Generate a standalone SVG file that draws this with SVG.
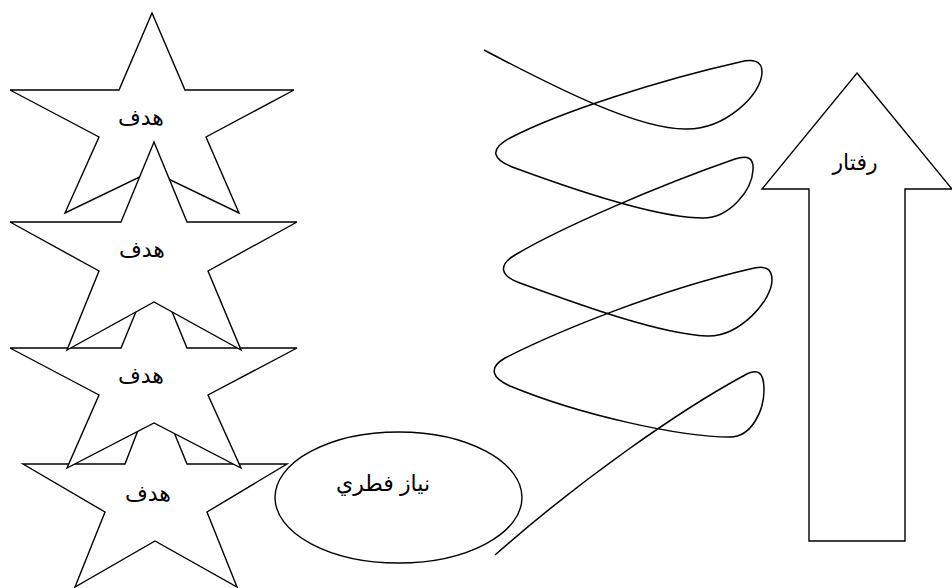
<svg xmlns="http://www.w3.org/2000/svg" width="952" height="588" viewBox="0 0 952 588">
<style>
.s{fill:#fff;stroke:#000;stroke-width:1.4;stroke-linejoin:miter}
.t{font-family:"Liberation Sans","DejaVu Sans",sans-serif;font-size:22px;fill:#000;text-anchor:middle}
.c{fill:none;stroke:#000;stroke-width:1.5}
</style>
<rect width="952" height="588" fill="#fff"/>
<g id="star1">
<polygon class="s" points="152,13 185,90 294,90 206,137 239,213 152,171 65,213 99,137 10,90 119,90"/>
<text class="t" x="141" y="125">هدف</text>
</g>
<g id="star4">
<polygon class="s" points="155,386 187,464 287,464 207,512 237,587 155,541 75,587 105,512 23,464 125,464"/>
<text class="t" x="148" y="501">هدف</text>
</g>
<g id="star3">
<polygon class="s" points="154,268 187,348 297,348 208,395 241,468 154,423 67,468 99,395 10,348 121,348"/>
<text class="t" x="141" y="383">هدف</text>
</g>
<g id="star2">
<polygon class="s" points="154,142 187,222 297,222 208,271 241,350 154,302 67,350 99,271 10,222 121,222"/>
<text class="t" x="142" y="257">هدف</text>
</g>
<g id="need">
<ellipse class="s" cx="398.5" cy="497.5" rx="123.5" ry="65.5"/>
<text class="t" x="383" y="491">نياز فطري</text>
</g>
<g id="behavior">
<polygon class="s" points="857,73 952,189 905,189 905,541 809,541 809,189 762,189"/>
<text class="t" x="855" y="170">رفتار</text>
</g>
<g id="connectors">
<path class="c" d="M484,50 C560,90 640,130 687,129 C725,129 762,95 762,72 C762,60 752,59 740,62 C660,80 560,112 510,138 C488,150 493,160 515,168 C580,192 660,218 703,218 C730,218 752,190 753,170 C754,158 748,155 735,159 C660,185 560,228 515,255 C498,265 500,276 520,283 C580,305 660,334 707,336 C740,337 772,300 772,280 C772,268 765,265 750,269 C660,290 560,330 505,358 C488,368 492,378 510,386 C580,415 680,437 730,437 C752,437 764,410 764,390 C764,372 758,368 745,375 C680,410 580,480 495,555"/>
</g>
</svg>
